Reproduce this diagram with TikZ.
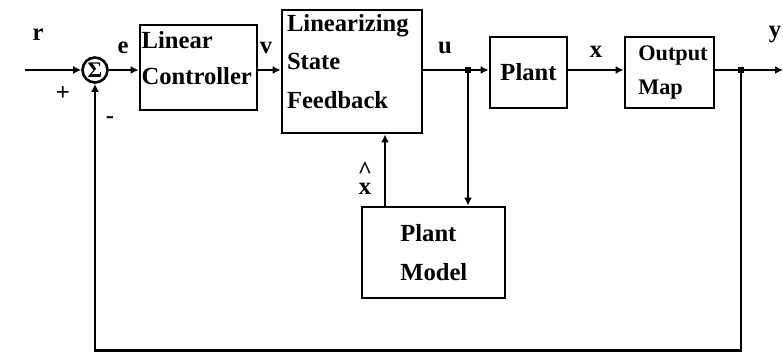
\documentclass[tikz,border=0pt]{standalone}
\usepackage{fontspec}
\setmainfont{Liberation Serif}
\usetikzlibrary{arrows.meta,calc,positioning}
\tikzset{
  block/.style = {draw, line width=2.4pt, align=left, anchor=center,
                  inner sep=0pt, font=\bfseries\fontsize{21}{31}\selectfont},
  sumnode/.style = {circle, draw, line width=2.2pt, minimum size=0.75cm,
                  inner sep=0pt, font=\bfseries\fontsize{19}{19}\selectfont},
  sig/.style   = {line width=2.4pt, -{Latex[length=2.4mm,width=2.4mm]}},
  wire/.style  = {line width=2.4pt},
  dot/.style   = {rectangle, fill=black, inner sep=2.6pt},
  lbl/.style   = {font=\bfseries\fontsize{21}{21}\selectfont},
}

\begin{document}
\begin{tikzpicture}
  \useasboundingbox (0,0) rectangle (23.49,10.59);
  % blocks
  \node[sumnode] (sum) at (2.85,8.49) {Σ};
  \node[block, minimum width=3.51cm, minimum height=2.55cm] (lc) at (5.955,8.565) {};
  \node[block, minimum width=4.2cm, minimum height=3.69cm] (lsf) at (10.56,8.445) {};
  \node[block, minimum width=2.31cm, minimum height=2.13cm] (plant) at (15.855,8.415) {};
  \node[block, minimum width=2.67cm, minimum height=2.13cm] (om) at (20.085,8.415) {};
  \node[block, minimum width=4.29cm, minimum height=2.73cm] (pm) at (13.005,3.015) {};
  % block texts
  \node[block, draw=none, anchor=north west] at ($(lc.north west)+(0.05,-0.18)$) {Linear\\Controller};
  \node[block, draw=none, anchor=north west, font=\bfseries\fontsize{21}{33}\selectfont]
    at ($(lsf.north west)+(0.15,-0.12)$) {Linearizing\\State\\Feedback};
  \node[block, draw=none] at (plant) {Plant};
  \node[block, draw=none, anchor=west, font=\bfseries\fontsize{19}{29}\selectfont]
    at ($(om.west)+(0.4,0)$) {Output\\Map};
  \node[block, draw=none, anchor=west, font=\bfseries\fontsize{21}{33}\selectfont]
    at ($(pm.west)+(1.15,0)$) {Plant\\Model};
  % points
  \coordinate (in) at (0.75,8.49);
  \coordinate (out) at (23.49,8.49);
  \coordinate (bot) at (0,0.08);
  \coordinate (xh) at (11.55,0);
  \node[dot] (ju) at (14.04,8.49) {};
  \node[dot] (jy) at (22.23,8.49) {};
  % signals
  \draw[sig] (in) -- (sum);
  \draw[sig] (sum.east) -- (lc.west |- sum);
  \draw[sig] (lc.east |- sum) -- (lsf.west |- sum);
  \draw[wire] (lsf.east |- sum) -- (ju.center);
  \draw[sig] (ju.center) -- (plant.west |- sum);
  \draw[sig] (plant.east |- sum) -- (om.west |- sum);
  \draw[wire] (om.east |- sum) -- (jy.center);
  \draw[sig] (jy.center) -- (out);
  \draw[sig] (jy.center) |- (bot -| sum) -- (sum.south);
  \draw[sig] (ju.center) -- (ju |- pm.north);
  \draw[sig] (pm.north -| xh) -- (lsf.south -| xh);
  % labels
  \node[lbl] at (1.14,9.54) {r};
  \node[lbl] at (1.89,7.78) {+};
  \node[lbl] at (3.3,6.99) {-};
  \node[lbl] at (3.69,9.15) {e};
  \node[lbl] at (7.98,9.15) {v};
  \node[lbl] at (13.35,9.15) {u};
  \node[lbl] at (17.88,9.03) {x};
  \node[lbl] at (23.25,9.54) {y};
  \node[lbl, inner sep=0pt] (xhat) at (10.95,4.92) {x};
  \node[lbl, inner sep=0pt, anchor=south] at ($(xhat.north)+(0,0.14)$) {\^{}};
\end{tikzpicture}
\end{document}
